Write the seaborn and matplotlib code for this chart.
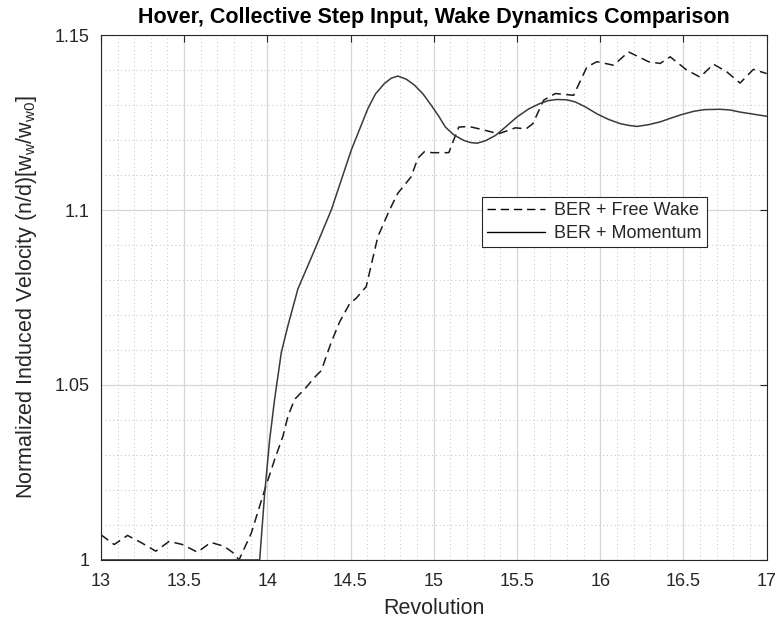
import numpy as np
import pandas as pd
import matplotlib
matplotlib.use("Agg")
import matplotlib.pyplot as plt
import seaborn as sns
from matplotlib.ticker import MultipleLocator, FixedLocator

# ---- data ----
free_wake_rev = [13.0, 13.08, 13.16, 13.24, 13.33, 13.41, 13.49, 13.58, 13.66, 13.74,
                 13.79, 13.83, 13.904, 13.984, 14.044, 14.094, 14.124, 14.164, 14.224,
                 14.284, 14.324, 14.384, 14.434, 14.494, 14.534, 14.594, 14.664, 14.734,
                 14.784, 14.864, 14.904, 14.944, 14.99, 15.09, 15.15, 15.21, 15.29, 15.39,
                 15.49, 15.555, 15.595, 15.66, 15.73, 15.84, 15.92, 15.98, 16.08, 16.17,
                 16.29, 16.36, 16.42, 16.52, 16.60, 16.68, 16.76, 16.84, 16.92, 17.0]
free_wake_val = [1.0072, 1.0044, 1.0070, 1.0050, 1.0025, 1.0053, 1.0044, 1.0022, 1.0050, 1.0039,
                 1.0022, 1.0000, 1.0077, 1.0200, 1.0287, 1.0354, 1.0411, 1.0459, 1.0488,
                 1.0522, 1.0541, 1.0622, 1.0680, 1.0732, 1.0748, 1.0781, 1.0924, 1.1000,
                 1.1048, 1.1095, 1.1148, 1.1167, 1.1164, 1.1164, 1.1237, 1.1239, 1.1230, 1.1218,
                 1.1235, 1.1232, 1.1247, 1.1314, 1.1333, 1.1328, 1.1409, 1.1424, 1.1414, 1.1452,
                 1.1424, 1.1419, 1.1438, 1.1400, 1.1380, 1.1417, 1.1395, 1.1363, 1.1402, 1.1390]

momentum_rev = [13.0, 13.954, 13.984, 14.014, 14.044, 14.084, 14.124, 14.184, 14.284, 14.384,
                14.504, 14.604, 14.65, 14.704, 14.745, 14.784, 14.835, 14.884, 14.935, 14.984,
                15.03, 15.07, 15.12, 15.18, 15.22, 15.26, 15.31, 15.37, 15.43, 15.50, 15.57,
                15.635, 15.69, 15.74, 15.80, 15.85, 15.91, 15.98, 16.05, 16.12, 16.17, 16.22,
                16.29, 16.36, 16.42, 16.49, 16.56, 16.625, 16.72, 16.78, 16.84, 16.92, 17.0]
momentum_val = [1.0, 1.0, 1.019, 1.0344, 1.046, 1.0593, 1.067, 1.0775, 1.0886, 1.100,
                1.1171, 1.129, 1.1332, 1.1362, 1.1377, 1.1383, 1.1374, 1.1357, 1.1332, 1.1300,
                1.1268, 1.1237, 1.1215, 1.1199, 1.1193, 1.1191, 1.1198, 1.1213, 1.1237, 1.1266, 1.1289,
                1.1304, 1.1313, 1.1316, 1.1315, 1.1309, 1.1295, 1.1275, 1.1259, 1.1247, 1.1242, 1.1239,
                1.1244, 1.1252, 1.1262, 1.1273, 1.1282, 1.1287, 1.1288, 1.1286, 1.1280, 1.1274, 1.1268]

series_names = ["BER + Free Wake", "BER + Momentum"]
x_ticks = [13, 13.5, 14, 14.5, 15, 15.5, 16, 16.5, 17]
x_tick_labels = ["13", "13.5", "14", "14.5", "15", "15.5", "16", "16.5", "17"]
y_ticks = [1.0, 1.05, 1.1, 1.15]
y_tick_labels = ["1", "1.05", "1.1", "1.15"]

title = "Hover, Collective Step Input, Wake Dynamics Comparison"
xlabel = "Revolution"
ylabel = r"Normalized Induced Velocity (n/d)[w$_{\mathregular{w}}$/w$_{\mathregular{w0}}$]"

df = pd.concat([
    pd.DataFrame({"Revolution": free_wake_rev, "Value": free_wake_val, "Series": series_names[0]}),
    pd.DataFrame({"Revolution": momentum_rev, "Value": momentum_val, "Series": series_names[1]}),
], ignore_index=True)

sns.set_style("white")
plt.rcParams["font.family"] = ["Liberation Sans", "DejaVu Sans"]
plt.rcParams["mathtext.fontset"] = "custom"
plt.rcParams["mathtext.rm"] = "Liberation Sans"
plt.rcParams["mathtext.it"] = "Liberation Sans"

fig = plt.figure(figsize=(7.76, 6.27), dpi=100)
ax = fig.add_axes([0.130, 0.107, 0.858, 0.837])

sns.lineplot(data=df, x="Revolution", y="Value", hue="Series", style="Series",
             palette={series_names[0]: "#1a1a1a", series_names[1]: "#3a3a3a"},
             dashes={series_names[0]: (6, 3.5), series_names[1]: ""},
             linewidth=1.1, sort=False, estimator=None, ax=ax)

ax.set_xlim(13, 17)
ax.set_ylim(1.0, 1.15)
ax.xaxis.set_major_locator(FixedLocator(x_ticks))
ax.set_xticklabels(x_tick_labels)
ax.yaxis.set_major_locator(FixedLocator(y_ticks))
ax.set_yticklabels(y_tick_labels)
ax.xaxis.set_minor_locator(MultipleLocator(0.1))
ax.yaxis.set_minor_locator(MultipleLocator(0.01))

ax.grid(True, which="major", color="#d6d6d6", linewidth=0.9, linestyle="-")
ax.grid(True, which="minor", color="#c2c2c2", linewidth=0.7, linestyle=(0, (1, 3)))
ax.set_axisbelow(True)

for sp in ax.spines.values():
    sp.set_visible(True)
    sp.set_color("#262626")
    sp.set_linewidth(0.8)

ax.tick_params(which="major", direction="in", length=5, width=0.8, color="#262626",
               top=True, right=True, labelsize=13, labelcolor="#262626")
ax.tick_params(axis="x", which="major", pad=9.5)
ax.tick_params(axis="y", which="major", pad=8)
ax.tick_params(which="minor", length=0, top=True, right=True)

ax.set_title(title, fontsize=15.5, fontweight="bold", color="black", pad=9)
ax.set_xlabel(xlabel, fontsize=15.5, color="#262626", labelpad=6)
ax.set_ylabel(ylabel, fontsize=15.5, color="#262626", labelpad=11)

leg = ax.legend(loc="upper left", bbox_to_anchor=(0.572, 0.692), fontsize=13,
                frameon=True, fancybox=False, edgecolor="#262626", framealpha=1,
                handlelength=3.2, borderpad=0.3, labelspacing=0.32, handletextpad=0.5,
                borderaxespad=0)
leg.get_frame().set_linewidth(0.8)
for line in leg.get_lines():
    line.set_color("black")
    line.set_linewidth(1.0)

fig.savefig("out.png", dpi=100)
